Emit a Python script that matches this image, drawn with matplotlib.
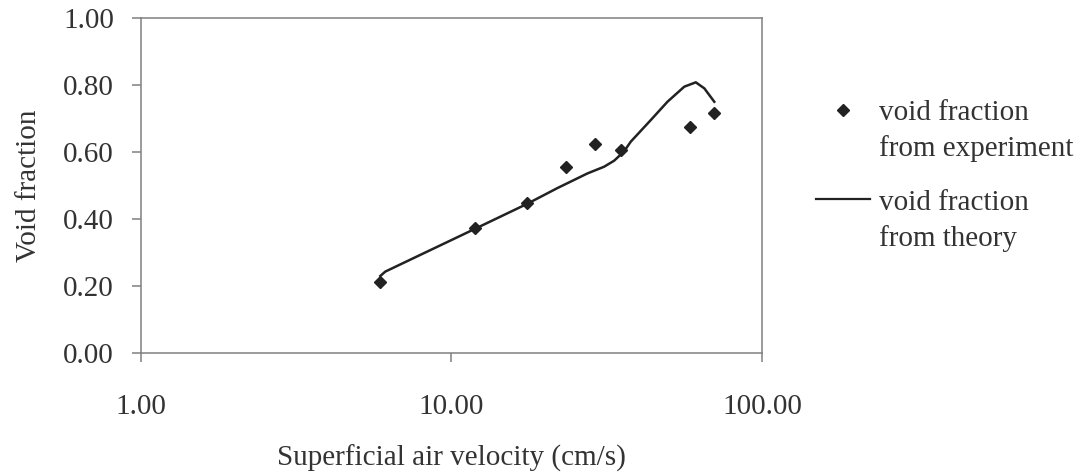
import matplotlib
matplotlib.use("Agg")
import matplotlib.pyplot as plt
from matplotlib.lines import Line2D

plt.rcParams['font.family'] = ['Liberation Serif', 'DejaVu Serif']

# experimental points (cm/s, void fraction)
exp_vel = [5.90, 11.86, 17.5, 23.3, 29.0, 35.2, 58.7, 70.2]
exp_void = [0.213, 0.374, 0.447, 0.556, 0.623, 0.607, 0.674, 0.716]

# theory curve
th_vel = [5.90, 6.12, 7.94, 11.8, 17.5, 21.9, 27.4, 31.0, 33.4, 35.9,
          37.8, 43.9, 49.6, 56.2, 61.2, 65.2, 70.2]
th_void = [0.230, 0.243, 0.293, 0.369, 0.445, 0.492, 0.536, 0.556, 0.574, 0.601,
           0.631, 0.696, 0.750, 0.795, 0.808, 0.790, 0.750]

yticks = [0.0, 0.2, 0.4, 0.6, 0.8, 1.0]
xticks = [1, 10, 100]

W, H = 1083, 476
fig = plt.figure(figsize=(W/100, H/100), dpi=100)
ax = fig.add_axes([141/W, 1-353/H, (762-141)/W, (353-18)/H])

ax.plot(th_vel, th_void, color='#222222', lw=1.8)
ax.plot(exp_vel, exp_void, 'D', color='#222222', ms=6.5, lw=0)

ax.set_xscale('log')
ax.set_xlim(1, 100)
ax.set_ylim(0, 1)
ax.set_xticks(xticks)
ax.set_xticklabels(['%.2f' % v for v in xticks])
ax.minorticks_off()
ax.set_yticks(yticks)
ax.set_yticklabels(['%.2f' % v for v in yticks])

for s in ax.spines.values():
    s.set_color('#808080')
    s.set_linewidth(1.1)
ax.tick_params(axis='both', direction='out', length=6.5, width=1.1, color='#808080',
               labelsize=21, labelcolor='#333333')
ax.tick_params(axis='x', pad=23)
ax.tick_params(axis='y', pad=13)

ax.set_xlabel('Superficial air velocity (cm/s)', fontsize=21, color='#333333', labelpad=18)
ax.set_ylabel('Void fraction', fontsize=21, color='#333333', labelpad=15)

# legend drawn by hand to match the layout
fig.add_artist(Line2D([843/W], [1-110/H], marker='D', ms=6, color='#222222', lw=0))
fig.add_artist(Line2D([816/W, 870/W], [1-199/H, 1-199/H], color='#222222', lw=1.6))
fig.text(879/W, 1-131/H, 'void fraction\nfrom experiment', fontsize=21, color='#333333',
         va='center', ha='left', linespacing=1.4)
fig.text(879/W, 1-221/H, 'void fraction\nfrom theory', fontsize=21, color='#333333',
         va='center', ha='left', linespacing=1.4)

fig.savefig('out.png', dpi=100)
